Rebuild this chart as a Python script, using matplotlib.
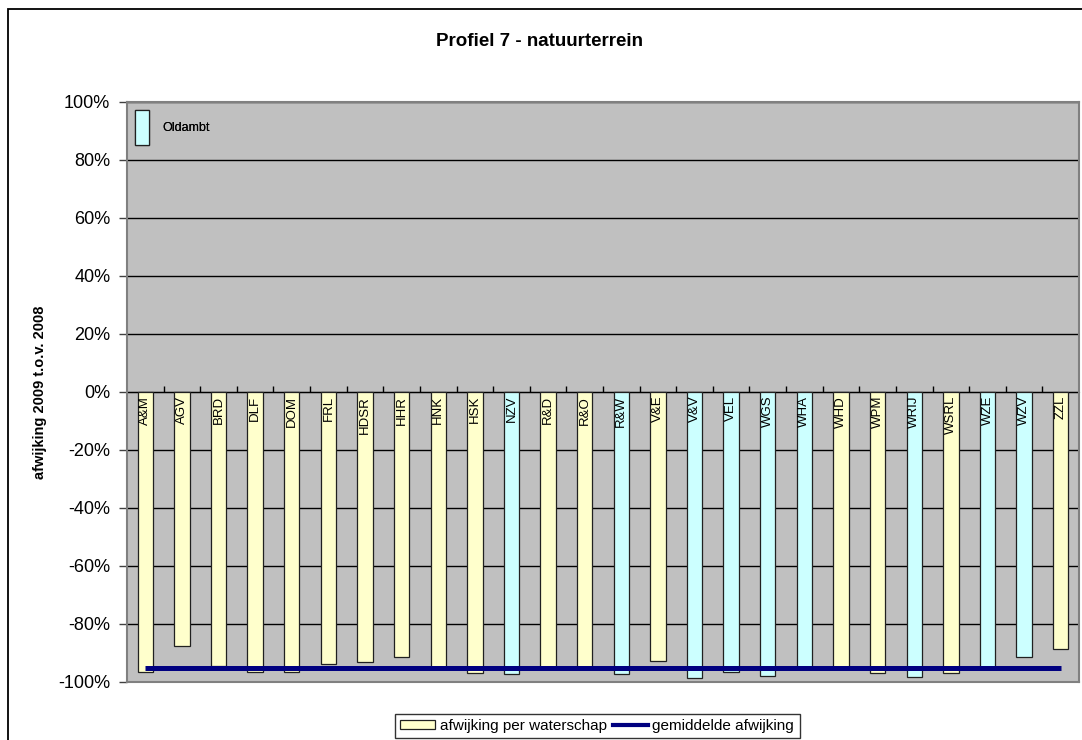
import matplotlib
matplotlib.use("Agg")
import matplotlib.pyplot as plt
from matplotlib.patches import Patch, Rectangle
from matplotlib.lines import Line2D
from matplotlib.ticker import PercentFormatter

plt.rcParams['font.family'] = ['Liberation Sans', 'DejaVu Sans']
plt.rcParams['axes.unicode_minus'] = False

categories = ["A&M", "AGV", "BRD", "DLF", "DOM", "FRL", "HDSR", "HHR", "HNK", "HSK",
              "NZV", "R&D", "R&O", "R&W", "V&E", "V&V", "VEL", "WGS", "WHA", "WHD",
              "WPM", "WRIJ", "WSRL", "WZE", "WZV", "ZZL"]
afwijking = [-96.4, -87.6, -94.4, -96.4, -96.4, -93.9, -93.0, -91.3, -94.7, -96.9,
             -97.4, -94.8, -94.8, -97.4, -92.6, -98.7, -96.4, -97.8, -95.6, -94.8,
             -97.0, -98.2, -97.0, -94.9, -91.3, -88.7]
oldambt = [0, 0, 0, 0, 0, 0, 0, 0, 0, 0,
           1, 0, 0, 1, 0, 1, 1, 1, 1, 0,
           0, 1, 0, 1, 1, 0]
gemiddelde = -95.3
yticks = [-100, -80, -60, -40, -20, 0, 20, 40, 60, 80, 100]

YELLOW = "#FFFFCC"
CYAN = "#CCFFFF"
NAVY = "#000080"
GRAY = "#C0C0C0"

W, H = 1082, 740
fig = plt.figure(figsize=(W / 100, H / 100), dpi=100)
fig.patch.set_facecolor("white")

# figure border (cropped at right/bottom)
fig.patches.append(Rectangle((8 / W, -0.2), 1.5, 1 - 9 / H + 0.2, transform=fig.transFigure,
                             fill=False, edgecolor="black", linewidth=1.3, clip_on=False))

left, right, top, bottom = 127, 1079, 102, 682
ax = fig.add_axes([left / W, 1 - bottom / H, (right - left) / W, (bottom - top) / H])
ax.set_facecolor(GRAY)

x = list(range(len(categories)))
colors = [CYAN if g else YELLOW for g in oldambt]
ax.bar(x, afwijking, width=0.42, color=colors, edgecolor="#202020", linewidth=0.9, zorder=2)
ax.plot(x, [gemiddelde] * len(x), color=NAVY, linewidth=3.6, zorder=3, solid_capstyle="butt")

ax.set_xlim(-0.5, len(categories) - 0.5)
ax.set_ylim(-100, 100)
ax.set_yticks(yticks)
ax.yaxis.set_major_formatter(PercentFormatter(decimals=0))
ax.tick_params(axis="y", labelsize=13, length=6, width=1, color="#404040", pad=6)
ax.set_xticks([])
ax.grid(axis="y", color="black", linewidth=1, zorder=0)
ax.set_axisbelow(True)
for s in ax.spines.values():
    s.set_color("#808080")
    s.set_linewidth(1.5)

# category axis at 0%
sec = ax.secondary_xaxis(0.5)
sec.set_xticks([i + 0.5 for i in x[:-1]])
sec.set_xticklabels([])
sec.tick_params(axis="x", length=4, width=1, color="black", direction="out")
sec.spines["bottom"].set_color("black")
sec.spines["bottom"].set_linewidth(1.2)

for i, name in enumerate(categories):
    ax.text(i, -1.3, name, rotation=90, ha="center", va="top", fontsize=9.5, zorder=4)

fig.text(40 / W, 1 - 392 / H, "afwijking 2009 t.o.v. 2008", rotation=90, ha="center", va="center",
         fontsize=10.5, fontweight="bold")
fig.text(540 / W, 1 - 42 / H, "Profiel 7 - natuurterrein", ha="center", va="center",
         fontsize=13.5, fontweight="bold")

# Oldambt legend
leg1 = ax.legend(handles=[Patch(facecolor=CYAN, edgecolor="#202020", linewidth=0.9, label="Oldambt")],
                 loc="upper left", bbox_to_anchor=(0.0, 1.0), frameon=False, fontsize=9,
                 handlelength=1.1, handleheight=3.9, handletextpad=1.1, borderaxespad=0.25)
ax.add_artist(leg1)

# main legend
handles = [Patch(facecolor=YELLOW, edgecolor="#202020", linewidth=0.9, label="afwijking per waterschap"),
           Line2D([0], [0], color=NAVY, linewidth=3, label="gemiddelde afwijking")]
leg = fig.legend(handles=handles, loc="lower center", bbox_to_anchor=(597 / W, 1 - 746 / H),
                 ncol=2, fontsize=11, frameon=True, fancybox=False, edgecolor="black",
                 handlelength=2.3, handleheight=0.6, handletextpad=0.3, columnspacing=0.4,
                 borderpad=0.35)
leg.get_frame().set_linewidth(1)

fig.savefig("out.png", dpi=100)
